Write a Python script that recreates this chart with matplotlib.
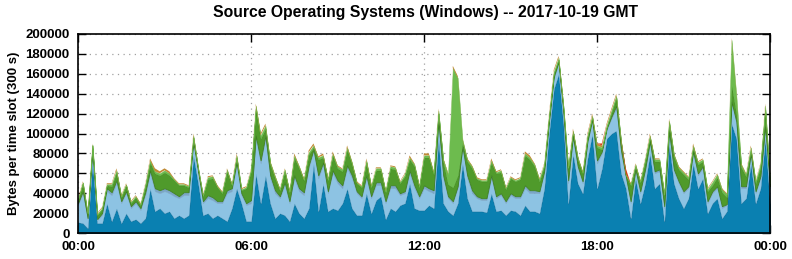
import matplotlib
matplotlib.use("Agg")
import matplotlib.pyplot as plt
import numpy as np

# values in thousands of bytes per 300 s slot, one value every 10 minutes (00:00 .. 24:00)
total = [
    35, 52, 21, 90, 20, 26, 50, 50, 65, 38, 50, 32, 38, 30, 50, 75, 65, 62, 65, 62, 55, 50, 50, 48,
    100, 67, 39, 57, 58, 48, 42, 65, 50, 80, 45, 47, 65, 130, 100, 110, 72, 58, 45, 65, 43, 80, 68, 55,
    83, 90, 77, 80, 55, 82, 68, 65, 88, 72, 52, 48, 75, 48, 66, 66, 43, 68, 67, 52, 60, 78, 70, 48,
    80, 80, 62, 125, 75, 60, 168, 158, 95, 75, 68, 56, 54, 54, 75, 62, 64, 46, 57, 54, 56, 82, 78, 70,
    55, 70, 120, 164, 178, 130, 67, 105, 77, 62, 100, 120, 90, 90, 110, 125, 140, 95, 65, 50, 70, 53, 75, 100,
    75, 75, 40, 115, 80, 67, 62, 57, 90, 72, 75, 45, 52, 60, 45, 40, 196, 140, 70, 60, 88, 53, 70, 130,
    53,
]
blue = [
    11, 10, 5, 72, 10, 10, 30, 12, 25, 10, 20, 12, 14, 10, 15, 45, 22, 25, 20, 22, 15, 18, 15, 18,
    78, 50, 18, 20, 15, 18, 15, 12, 25, 45, 30, 12, 12, 60, 30, 58, 30, 15, 20, 18, 12, 30, 20, 15,
    25, 70, 22, 50, 22, 25, 23, 30, 45, 25, 18, 18, 40, 20, 33, 37, 14, 25, 22, 28, 30, 50, 25, 23,
    23, 28, 25, 95, 30, 22, 18, 30, 70, 35, 22, 22, 22, 21, 40, 22, 23, 18, 23, 22, 18, 28, 22, 22,
    20, 45, 100, 145, 160, 110, 30, 80, 50, 40, 75, 100, 45, 65, 95, 100, 103, 60, 45, 15, 55, 30, 50, 80,
    45, 50, 12, 90, 50, 35, 25, 35, 70, 45, 55, 20, 30, 35, 15, 22, 110, 95, 30, 35, 70, 30, 45, 95,
    30,
]
light_blue = [
    17, 30, 9, 11, 3, 8, 12, 26, 25, 20, 20, 13, 16, 13, 23, 15, 20, 15, 22, 18, 22, 17, 23, 20,
    12, 10, 12, 15, 18, 12, 15, 28, 17, 23, 8, 16, 18, 35, 40, 37, 25, 25, 15, 30, 18, 25, 22, 23,
    40, 12, 33, 18, 18, 35, 27, 15, 20, 30, 22, 17, 15, 15, 15, 11, 16, 20, 23, 10, 10, 10, 20, 12,
    22, 14, 15, 15, 25, 13, 12, 15, 15, 20, 18, 13, 11, 12, 15, 13, 15, 12, 15, 13, 17, 17, 18, 18,
    20, 15, 10, 10, 10, 10, 20, 15, 15, 10, 15, 12, 25, 15, 8, 15, 22, 20, 10, 15, 7, 10, 12, 10,
    15, 12, 13, 10, 12, 15, 15, 10, 10, 13, 10, 10, 10, 10, 10, 6, 20, 15, 15, 10, 8, 10, 10, 10,
    15,
]
slate = [
    2, 2, 1, 2, 1, 2, 3, 3, 3, 2, 2, 2, 2, 2, 3, 3, 3, 3, 3, 3, 3, 2, 3, 3,
    2, 2, 2, 3, 3, 2, 2, 3, 3, 3, 2, 2, 3, 3, 3, 3, 3, 3, 2, 3, 2, 3, 3, 3,
    3, 2, 3, 3, 2, 3, 3, 3, 3, 3, 2, 2, 3, 2, 3, 3, 2, 3, 3, 2, 2, 3, 3, 2,
    3, 3, 3, 2, 3, 2, 2, 2, 2, 3, 3, 2, 2, 2, 3, 2, 2, 2, 2, 2, 2, 3, 3, 3,
    2, 2, 2, 2, 2, 2, 3, 2, 2, 2, 2, 2, 3, 2, 2, 2, 3, 3, 2, 2, 2, 2, 2, 2,
    2, 2, 2, 2, 2, 2, 2, 2, 2, 2, 2, 2, 2, 2, 2, 1, 2, 2, 2, 2, 2, 2, 2, 2,
    2,
]
light_green = [
    1, 1, 1, 1, 1, 1, 1, 2, 2, 1, 1, 1, 1, 1, 2, 2, 2, 2, 2, 2, 1, 1, 1, 1,
    2, 2, 1, 2, 2, 1, 1, 2, 1, 2, 1, 1, 2, 3, 3, 3, 2, 2, 1, 2, 1, 2, 2, 1,
    2, 2, 2, 2, 1, 2, 2, 2, 2, 2, 1, 1, 2, 1, 2, 2, 1, 2, 2, 1, 2, 2, 2, 1,
    2, 2, 2, 3, 2, 10, 120, 98, 3, 2, 2, 1, 1, 1, 2, 1, 2, 1, 1, 1, 1, 2, 2, 2,
    2, 2, 2, 2, 2, 2, 1, 2, 2, 1, 2, 2, 2, 2, 2, 2, 2, 2, 1, 1, 2, 1, 2, 2,
    2, 2, 1, 2, 2, 2, 2, 2, 2, 2, 2, 2, 3, 3, 3, 3, 45, 18, 3, 2, 3, 2, 3, 4,
    2,
]
orange = [
    1, 1, 1, 1, 1, 1, 1, 1, 2, 1, 1, 1, 1, 1, 1, 2, 3, 2, 2, 2, 1, 1, 1, 1,
    2, 1, 1, 1, 1, 1, 1, 1, 1, 2, 1, 1, 1, 2, 2, 2, 1, 1, 1, 1, 1, 2, 1, 1,
    2, 2, 1, 2, 1, 2, 1, 1, 2, 1, 1, 1, 2, 1, 1, 1, 1, 1, 1, 1, 1, 2, 1, 1,
    2, 2, 1, 2, 1, 1, 2, 2, 1, 1, 1, 1, 1, 1, 2, 1, 1, 1, 1, 1, 1, 2, 2, 1,
    1, 1, 2, 2, 2, 2, 1, 2, 1, 1, 2, 2, 2, 2, 2, 2, 2, 2, 1, 1, 1, 1, 1, 2,
    1, 1, 1, 2, 1, 1, 1, 1, 2, 1, 1, 1, 1, 1, 1, 1, 2, 2, 1, 1, 2, 1, 1, 2,
    1,
]
red = [0] * 109 + [2, 0, 0, 0, 0, 5] + [0] * 30

hours = np.arange(len(total)) / 6.0
tick_hours = [0, 6, 12, 18, 24]
tick_labels = ["00:00", "06:00", "12:00", "18:00", "00:00"]

FONT = "Liberation Sans"


def main():
    k = 1000.0
    tot = np.array(total) * k
    parts = [np.array(v) * k for v in (blue, light_blue, slate)]
    lg = np.array(light_green) * k
    org = np.array(orange) * k
    rd = np.array(red, dtype=float) * k
    dark_green = np.maximum(tot - sum(parts) - lg - org - rd, 0.5 * k)
    layers = parts + [dark_green, lg, org, rd]
    # (face, edge, edge width)
    styles = [
        ("#0a80b1", "#0b6790", 0.8),
        ("#8dc3e3", "#8dc3e3", 0.3),
        ("#7aa6c6", "#7aa6c6", 0.3),
        ("#4f9a2b", "#3f8123", 0.6),
        ("#6dbb4e", "#6dbb4e", 0.3),
        ("#c08a35", "none", 0.0),
        ("#d2401a", "none", 0.0),
    ]

    fig = plt.figure(figsize=(7.92, 2.59), dpi=100)
    ax = fig.add_axes([78 / 792, 1 - 233 / 259, 692 / 792, 199 / 259])

    base = np.zeros_like(tot)
    for vals, (fc, ec, lw) in zip(layers, styles):
        top = base + vals
        ax.fill_between(hours, base, top, facecolor=fc, edgecolor=ec, linewidth=lw, zorder=2)
        base = top

    ax.set_xlim(0, 24)
    ax.set_ylim(0, 200000)
    ax.set_xticks(tick_hours)
    ax.set_xticklabels(tick_labels)
    ax.set_yticks(np.arange(0, 200001, 20000))
    ax.grid(True, color="#a0a0a0", linestyle=(0, (1, 3.5)), linewidth=0.9, zorder=0)
    ax.set_axisbelow(True)
    ax.tick_params(direction="in", length=6, width=1.0, top=True, right=True,
                   labelsize=9.5, pad=6)
    for lab in ax.get_xticklabels() + ax.get_yticklabels():
        lab.set_fontfamily(FONT)
        lab.set_fontweight("bold")
    for s in ax.spines.values():
        s.set_linewidth(1.2)
        s.set_zorder(5)

    ax.set_ylabel("Bytes per time slot (300 s)", fontsize=9.5, fontweight="bold",
                  fontfamily=FONT, labelpad=4)
    fig.text(0.537, 1 - 12 / 259, "Source Operating Systems (Windows) -- 2017-10-19 GMT",
             ha="center", va="center", fontsize=11.3, fontweight="bold", fontfamily=FONT)

    fig.savefig("out.png", dpi=100, facecolor="white")
    plt.close(fig)


if __name__ == "__main__":
    main()
